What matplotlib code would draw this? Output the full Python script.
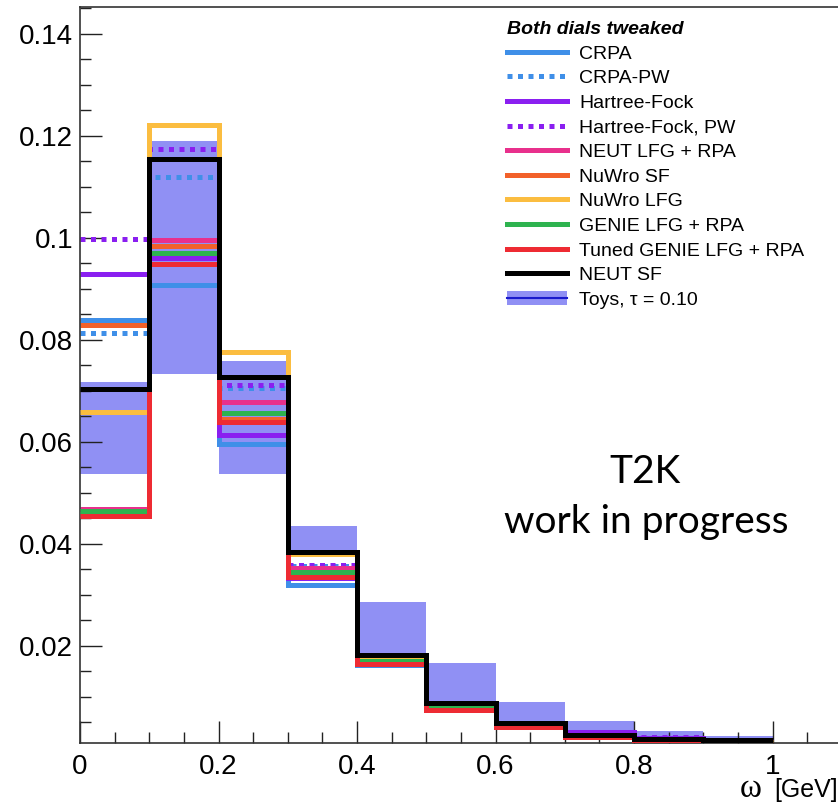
import matplotlib
matplotlib.use('Agg')
import matplotlib.pyplot as plt
from matplotlib.lines import Line2D
from matplotlib.patches import Patch
from matplotlib.ticker import MultipleLocator, FuncFormatter
import numpy as np

plt.rcParams['font.family'] = ['Liberation Sans', 'DejaVu Sans']

# omega bins [GeV]
bin_edges = [0.0, 0.1, 0.2, 0.3, 0.4, 0.5, 0.6, 0.7, 0.8, 0.9, 1.0]

# normalised shapes, one value per bin
crpa = [0.0838, 0.0908, 0.0596, 0.0320, 0.0162, 0.0077, 0.0042, 0.0023, 0.0015, 0.0010]
crpa_pw = [0.0813, 0.1119, 0.0705, 0.0356, 0.0168, 0.0080, 0.0044, 0.0025, 0.0016, 0.0011]
hartree_fock = [0.0928, 0.0961, 0.0614, 0.0332, 0.0166, 0.0082, 0.0047, 0.0030, 0.0020, 0.0014]
hartree_fock_pw = [0.0998, 0.1174, 0.0712, 0.0359, 0.0170, 0.0084, 0.0048, 0.0031, 0.0021, 0.0015]
neut_lfg_rpa = [0.0468, 0.0995, 0.0677, 0.0353, 0.0172, 0.0080, 0.0043, 0.0024, 0.0015, 0.0010]
nuwro_sf = [0.0828, 0.0983, 0.0645, 0.0340, 0.0170, 0.0080, 0.0044, 0.0025, 0.0016, 0.0011]
nuwro_lfg = [0.0658, 0.1221, 0.0775, 0.0380, 0.0178, 0.0085, 0.0047, 0.0026, 0.0016, 0.0012]
genie_lfg_rpa = [0.0465, 0.0970, 0.0657, 0.0344, 0.0170, 0.0078, 0.0042, 0.0023, 0.0014, 0.0009]
tuned_genie = [0.0455, 0.0949, 0.0638, 0.0334, 0.0164, 0.0074, 0.0041, 0.0022, 0.0014, 0.0008]
neut_sf = [0.0703, 0.1155, 0.0727, 0.0383, 0.0182, 0.0088, 0.0049, 0.0025, 0.0017, 0.0015]

# toy throws, tau = 0.10 (band edges)
toys_low = [0.0536, 0.0732, 0.0536, 0.0375, 0.0156, 0.0084, 0.0041, 0.0022, 0.0015, 0.0011]
toys_high = [0.0717, 0.1189, 0.0758, 0.0434, 0.0285, 0.0166, 0.0090, 0.0053, 0.0032, 0.0024]

models = [
    ('CRPA', crpa, '#3f8fe8', '-'),
    ('CRPA-PW', crpa_pw, '#3f8fe8', ':'),
    ('Hartree-Fock', hartree_fock, '#8a1ff0', '-'),
    ('Hartree-Fock, PW', hartree_fock_pw, '#8a1ff0', ':'),
    ('NEUT LFG + RPA', neut_lfg_rpa, '#e8308c', '-'),
    ('NuWro SF', nuwro_sf, '#f2612a', '-'),
    ('NuWro LFG', nuwro_lfg, '#fbbd40', '-'),
    ('GENIE LFG + RPA', genie_lfg_rpa, '#2eb34f', '-'),
    ('Tuned GENIE LFG + RPA', tuned_genie, '#ee2b33', '-'),
    ('NEUT SF', neut_sf, 'black', '-'),
]

fig = plt.figure(figsize=(8.38, 8.11), dpi=100)
ax = fig.add_axes([80 / 838, 68 / 811, 761.75 / 838, 736 / 811])

band_col = '#4c4cee'
edges = np.array(bin_edges)
lo = np.append(toys_low, toys_low[-1])
hi = np.append(toys_high, toys_high[-1])
ax.fill_between(edges, lo, hi, step='post', facecolor=band_col, alpha=0.62,
                linewidth=0, zorder=1)

handles = []
for i, (name, vals, col, ls) in enumerate(models):
    dash = (0, (1, 1.1)) if ls == ':' else '-'
    ax.stairs(vals, edges, baseline=None, color=col, linestyle=dash,
              linewidth=3.6, zorder=2 + i * 0.1)
    handles.append(Line2D([], [], color=col, linestyle=dash, linewidth=3.6))
handles.append((Patch(facecolor=band_col, alpha=0.62, linewidth=0),
                Line2D([], [], color='#1a1acc', linewidth=1.5)))
labels = [m[0] for m in models] + ['Toys, \u03c4 = 0.10']

ax.set_xlim(0, 1.1)
ax.set_ylim(0.00094, 0.1452)
ax.xaxis.set_major_locator(MultipleLocator(0.2))
ax.xaxis.set_minor_locator(MultipleLocator(0.05))
ax.yaxis.set_major_locator(MultipleLocator(0.02))
ax.yaxis.set_minor_locator(MultipleLocator(0.005))
ax.xaxis.set_major_formatter(FuncFormatter(lambda v, p: '%g' % round(v, 2)))
ax.yaxis.set_major_formatter(FuncFormatter(lambda v, p: '%g' % round(v, 3)))
ax.tick_params(which='both', direction='in', width=1.0, labelsize=20, color='#222222')
ax.tick_params(which='major', length=16)
ax.tick_params(which='minor', length=8)
ax.tick_params(axis='x', pad=8)
ax.tick_params(axis='y', pad=5)
for s in ax.spines.values():
    s.set_linewidth(1.2)
    s.set_color('#333333')

leg = ax.legend(handles, labels, loc='upper left',
                bbox_to_anchor=(507 / 838, 1 - 21 / 811), bbox_transform=fig.transFigure,
                frameon=False, fontsize=14, handlelength=3.1, handletextpad=0.6,
                labelspacing=0.36, borderpad=0, borderaxespad=0,
                title='Both dials tweaked', alignment='left',
                title_fontproperties={'weight': 'bold', 'style': 'italic', 'size': 14})

fig.text(645 / 838, (811 - 483) / 811, 'T2K', ha='center', va='baseline',
         fontsize=28, family=['Lato', 'DejaVu Sans'])
fig.text(646 / 838, (811 - 533) / 811, 'work in progress', ha='center', va='baseline',
         fontsize=28, family=['Lato', 'DejaVu Sans'])

fig.text(751 / 838, (811 - 797) / 811, '\u03c9', ha='center', va='baseline',
         fontsize=24, family=['Liberation Serif', 'DejaVu Serif'])
fig.text(838 / 838, (811 - 797) / 811, '[GeV]', ha='right', va='baseline', fontsize=18)

fig.savefig('out.png', dpi=100)
